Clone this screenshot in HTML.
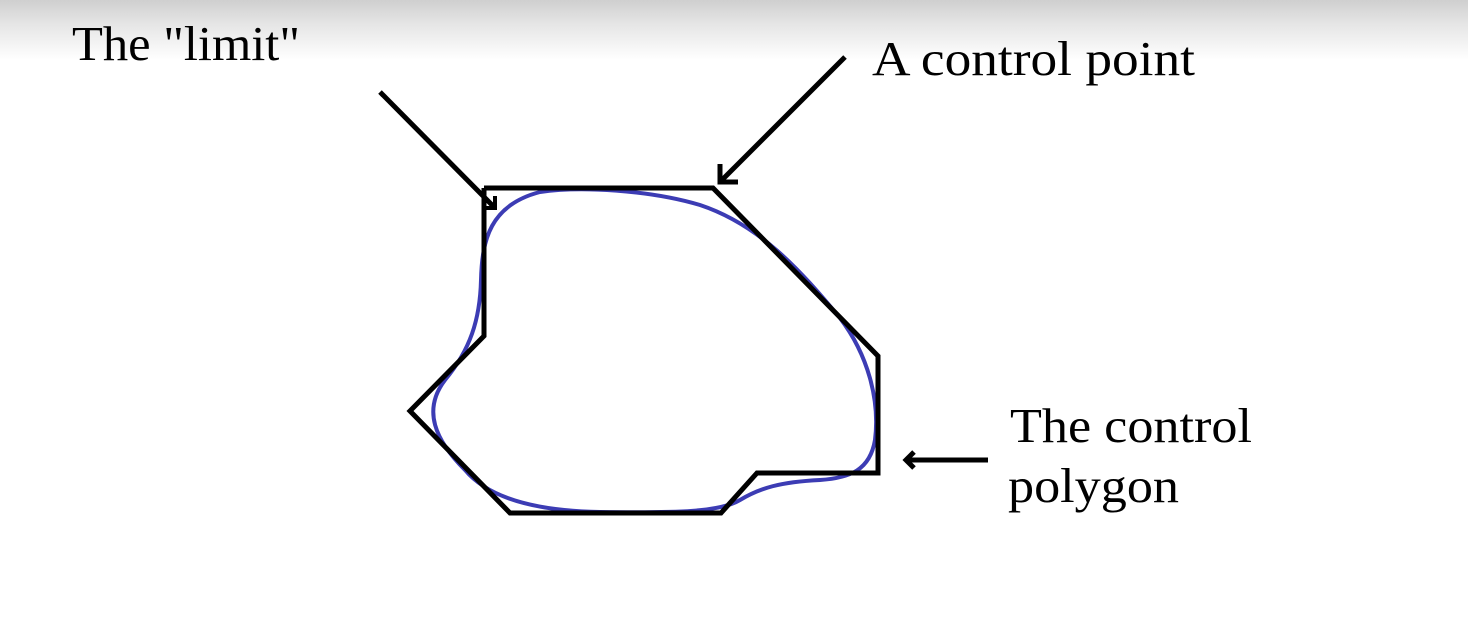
<!DOCTYPE html>
<html><head><meta charset="utf-8"><style>
html,body{margin:0;padding:0;width:1468px;height:624px;overflow:hidden;background:#fff}
#bg{position:absolute;left:0;top:0;width:1468px;height:70px;background:linear-gradient(#cfcfcf,#e6e6e6 25px,#fff 60px)}
svg{position:absolute;left:0;top:0}
text{font-family:"Liberation Serif",serif;font-size:49px;fill:#000}
</style></head><body>
<div id="bg"></div>
<svg width="1468" height="624">
<text x="72" y="60" textLength="228" lengthAdjust="spacingAndGlyphs">The "limit"</text>
<text x="872" y="75" textLength="323" lengthAdjust="spacingAndGlyphs">A control point</text>
<text x="1010" y="442" textLength="242" lengthAdjust="spacingAndGlyphs">The control</text>
<text x="1008" y="502" textLength="171" lengthAdjust="spacingAndGlyphs">polygon</text>
<path fill="none" stroke="#3c3cb4" stroke-width="4"
d="M540,192 C580,186 650,190 700,205 C760,225 800,270 840,318 C868,355 880,400 875,440 C870,470 850,478 820,480 C780,482 760,488 740,500 C720,512 680,513 600,512 C540,511 490,500 465,470 C435,440 422,410 445,380 C470,350 480,320 481,280 C482,240 490,205 540,192 Z"/>
<polyline fill="none" stroke="#000" stroke-width="5" stroke-linejoin="miter"
points="484,188 713,188 878,356 878,473 757,473 721,513 510,513 410,411 484,336 484,188"/>
<g stroke="#000" stroke-width="5" fill="none">
<line x1="380" y1="92" x2="495" y2="208"/>
<polyline points="484,208 495,208 495,196" stroke-width="4"/>
</g>
<g stroke="#000" stroke-width="5" fill="none">
<line x1="845" y1="57" x2="720" y2="182"/>
<polyline points="720,164 720,182 738,182"/>
</g>
<g stroke="#000" stroke-width="5" fill="none">
<line x1="988" y1="460" x2="907" y2="460"/>
<polyline points="914,452 906,460 914,468"/>
</g>
</svg>
</body></html>
